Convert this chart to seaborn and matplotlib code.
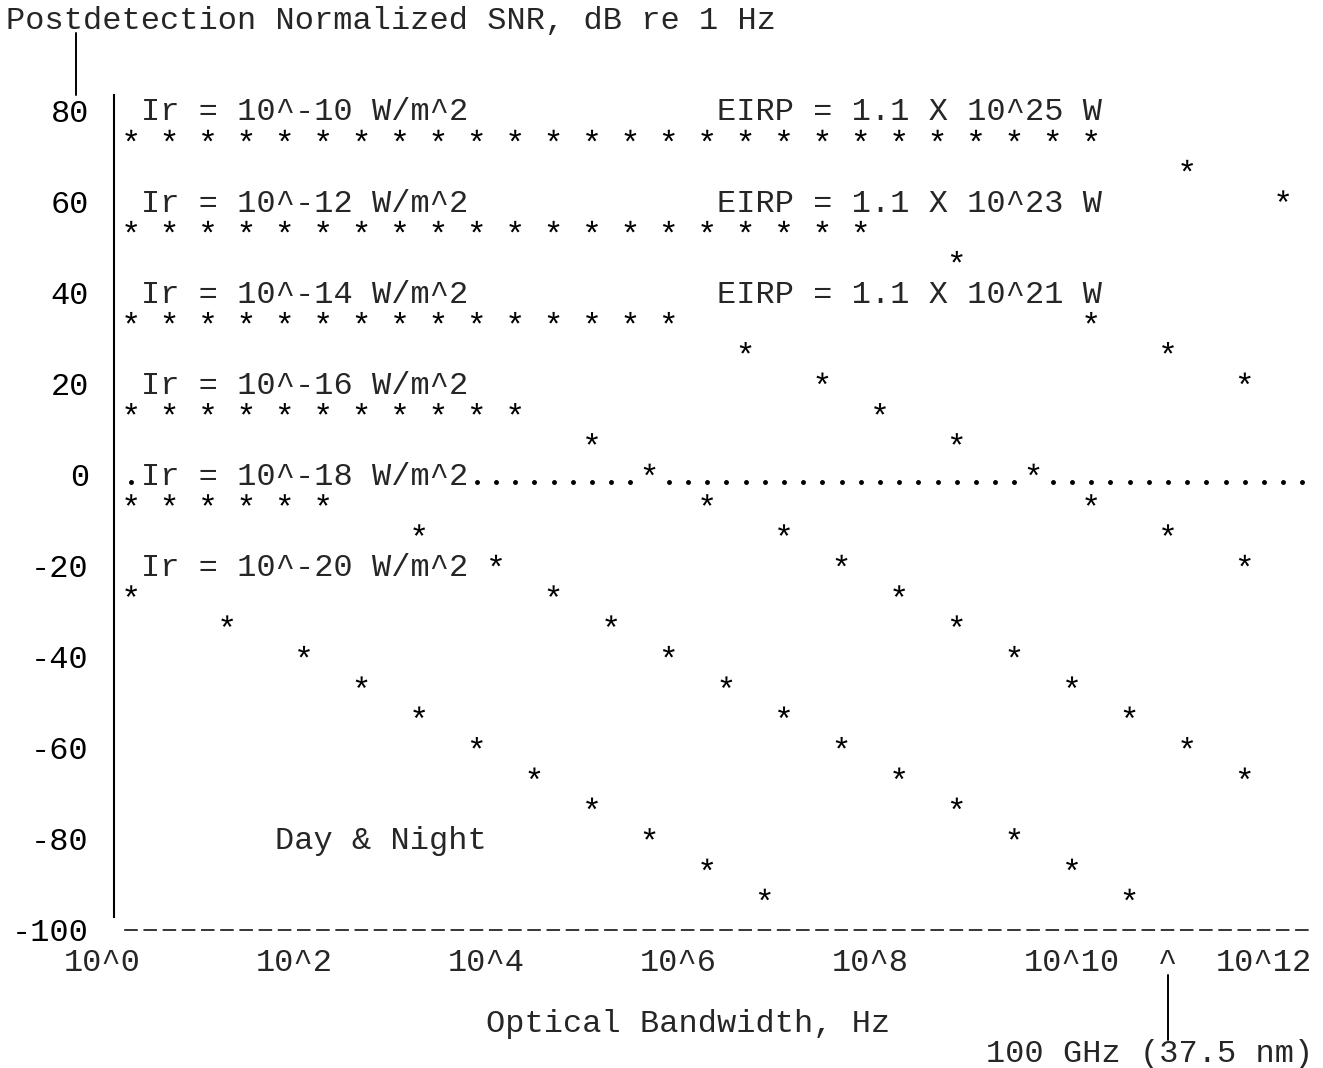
import numpy as np
import pandas as pd
import matplotlib
matplotlib.use("Agg")
import matplotlib.pyplot as plt
import seaborn as sns
from matplotlib.path import Path
from matplotlib.textpath import TextPath
from matplotlib.font_manager import FontProperties
from matplotlib.transforms import ScaledTranslation, offset_copy

# x = log10(optical bandwidth, Hz), y = postdetection SNR, dB re 1 Hz
flat_x = [0.2, 0.6, 1.0, 1.4, 1.8, 2.2, 2.6, 3.0, 3.4, 3.8, 4.2, 4.6, 5.0,
          5.4, 5.8, 6.2, 6.6, 7.0, 7.4, 7.8, 8.2, 8.6, 9.0, 9.4, 9.8, 10.2]

ir10_x = flat_x[:26] + [11.2, 12.2]
ir10_y = [73.3] * 26 + [66.7, 60.0]

ir12_x = flat_x[:20] + [8.8, 10.2, 11.0, 11.8]
ir12_y = [53.3] * 20 + [46.7, 33.3, 26.7, 20.0]

ir14_x = flat_x[:15] + [6.6, 7.4, 8.0, 8.8, 9.6, 10.2, 11.0, 11.8]
ir14_y = [33.3] * 15 + [26.7, 20.0, 13.3, 6.7, 0.0, -6.7, -13.3, -20.0]

ir16_x = flat_x[:11] + [5.0, 5.6, 6.2, 7.0, 7.6, 8.2, 8.8, 9.4, 10.0, 10.6,
                        11.2, 11.8]
ir16_y = [13.3] * 11 + [6.7, 0.0, -6.7, -13.3, -20.0, -26.7, -33.3, -40.0,
                        -46.7, -53.3, -60.0, -66.7]

ir18_x = flat_x[:6] + [3.2, 4.0, 4.6, 5.2, 5.8, 6.4, 7.0, 7.6, 8.2, 8.8, 9.4,
                       10.0, 10.6]
ir18_y = [-6.7] * 6 + [-13.3, -20.0, -26.7, -33.3, -40.0, -46.7, -53.3, -60.0,
                       -66.7, -73.3, -80.0, -86.7, -93.3]

ir20_x = [0.2, 1.2, 2.0, 2.6, 3.2, 3.8, 4.4, 5.0, 5.6, 6.2, 6.8]
ir20_y = [-26.7, -33.3, -40.0, -46.7, -53.3, -60.0, -66.7, -73.3, -80.0,
          -86.7, -93.3]

ir_labels = ["Ir = 10^-10 W/m^2", "Ir = 10^-12 W/m^2", "Ir = 10^-14 W/m^2",
             "Ir = 10^-16 W/m^2", "Ir = 10^-18 W/m^2", "Ir = 10^-20 W/m^2"]
ir_label_db = [80, 60, 40, 20, 0, -20]
eirp_labels = ["EIRP = 1.1 X 10^25 W", "EIRP = 1.1 X 10^23 W",
               "EIRP = 1.1 X 10^21 W"]

y_ticks = [80, 60, 40, 20, 0, -20, -40, -60, -80, -100]
x_ticks = [0, 2, 4, 6, 8, 10, 12]
x_tick_labels = ["10^0", "10^2", "10^4", "10^6", "10^8", "10^10", "10^12"]

df = pd.concat([
    pd.DataFrame({"bw": ir10_x, "snr": ir10_y, "ir": "1e-10"}),
    pd.DataFrame({"bw": ir12_x, "snr": ir12_y, "ir": "1e-12"}),
    pd.DataFrame({"bw": ir14_x, "snr": ir14_y, "ir": "1e-14"}),
    pd.DataFrame({"bw": ir16_x, "snr": ir16_y, "ir": "1e-16"}),
    pd.DataFrame({"bw": ir18_x, "snr": ir18_y, "ir": "1e-18"}),
    pd.DataFrame({"bw": ir20_x, "snr": ir20_y, "ir": "1e-20"}),
], ignore_index=True)

sns.set_style("white")
plt.rcParams["font.family"] = ["Liberation Mono", "DejaVu Sans Mono"]
plt.rcParams["lines.scale_dashes"] = False
FS = 23.04  # 19.2 px character pitch

fig = plt.figure(figsize=(13.23, 10.68), dpi=100)
ax = fig.add_axes([0, 0, 1, 1])
ax.set_xlim(-112 / 96, (1323 - 112) / 96)
ax.set_ylim(80 - (1068 - 110) / 4.5555, 80 + 110 / 4.5555)

# asterisk marker taken from the font itself (centered, close vertices ignored)
tp = TextPath((0, 0), "*", size=1, prop=FontProperties(family="Liberation Mono"))
v = tp.vertices.copy()
real = tp.codes != Path.CLOSEPOLY
v = v - (v[real].min(axis=0) + v[real].max(axis=0)) / 2
v[~real] = 0.0
star = Path(v, tp.codes)

sns.scatterplot(data=df, x="bw", y="snr", marker=star, s=72, color="black",
                edgecolor="none", linewidth=0, legend=False, ax=ax)
ax.collections[0].set_offset_transform(
    ax.transData + ScaledTranslation(0, 0.05, fig.dpi_scale_trans))

# dotted 0 dB line, broken by the label and by the curves
zero_x = [x for x, y in zip(df.bw, df.snr) if y == 0.0]
cols = [0] + list(range(18, 62))
dots = [0.2 + 0.2 * c for c in cols]
dots = [d for d in dots if min(abs(d - z) for z in zero_x) > 0.05]
ax.plot(dots, np.zeros(len(dots)), "o", ms=2.5, color="black",
        transform=ax.transData + ScaledTranslation(0, -0.076, fig.dpi_scale_trans))

txt_tr = offset_copy(ax.transData, fig=fig, y=-10.5, units="dots")


def put(x, y, s, ha="left"):
    ax.text(x, y, s, ha=ha, va="baseline", fontsize=FS, transform=txt_tr,
            clip_on=False)


for lab, db in zip(ir_labels, ir_label_db):
    put(0.3, db, lab)
for lab, db in zip(eirp_labels, ir_label_db):
    put(6.3, db, lab)

put(-1.1, 100, "Postdetection Normalized SNR, dB re 1 Hz")
put(1.7, -80, "Day & Night")
for t, lab in zip(x_ticks, x_tick_labels):
    put(t - 0.5, -106.67, lab)
put(11.0, -106.67, "^", ha="center")
put(3.9, -120, "Optical Bandwidth, Hz")
put(9.1, -126.67, "100 GHz (37.5 nm)")

# leader lines
ax.plot([-0.375, -0.375], [96.9, 83.3], color="black", lw=1.4, clip_on=False)
ax.plot([11.0, 11.0], [-109.9, -124.2], color="black", lw=1.4, clip_on=False)

# axes: solid vertical line, row of dashes at -100 dB
ax.spines["top"].set_visible(False)
ax.spines["right"].set_visible(False)
ax.spines["left"].set_position(("data", 0.02))
ax.spines["left"].set_bounds(-97.2, 83.3)
ax.spines["left"].set_linewidth(1.5)
ax.spines["left"].set_color("black")
ax.spines["bottom"].set_position(("data", -100))
ax.spines["bottom"].set_bounds(0.1375, 12.4625)
ax.spines["bottom"].set_linewidth(1.1)
ax.spines["bottom"].set_color("black")
ax.spines["bottom"].set_linestyle((0, (8.64, 5.18)))

ax.set_yticks(y_ticks, [str(t) for t in y_ticks])
ax.set_xticks([])
ax.tick_params(axis="y", length=0, pad=18, labelsize=FS, labelcolor="black")
ax.set_xlabel("")
ax.set_ylabel("")

fig.savefig("out.png", dpi=100)
